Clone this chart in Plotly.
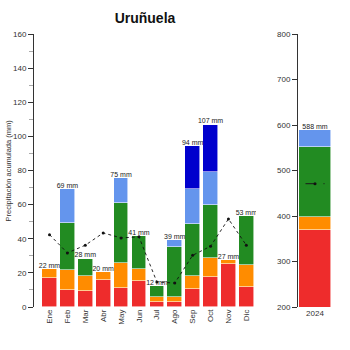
import plotly.graph_objects as go

months = ["Ene", "Feb", "Mar", "Abr", "May", "Jun", "Jul", "Ago", "Sep", "Oct", "Nov", "Dic"]
red = [17.1, 10.2, 9.1, 16.1, 11.4, 15.5, 2.8, 2.8, 10.8, 17.4, 25.3, 11.6]
orange = [4.9, 11.2, 8.9, 4.3, 14.6, 7.0, 2.9, 2.9, 7.2, 11.4, 2.4, 13.3]
green = [0, 27.9, 10.2, 0, 35.1, 18.9, 6.5, 29.3, 30.7, 31.2, 0, 28.6]
lightblue = [0, 20.0, 0, 0, 14.5, 0, 0, 4.1, 20.6, 19.1, 0, 0]
darkblue = [0, 0, 0, 0, 0, 0, 0, 0, 24.8, 27.7, 0, 0]
totals = [22, 69, 28, 20, 75, 41, 12, 39, 94, 107, 27, 53]
normal = [42.4, 31.7, 36.2, 43.4, 40.5, 41.1, 14.7, 14.0, 30.3, 35.6, 51.6, 36.2]

year = ["2024"]
y_red = [369.5]
y_orange = [27.5]
y_green = [154.5]
y_lightblue = [36.5]
y_total = [588]
y_normal = [471]

colors = {"red": "#EE2C2C", "orange": "#FF8C00", "green": "#228B22",
          "lightblue": "#6495ED", "darkblue": "#0000CD"}

W, H = 350, 350
fig = go.Figure()
edge = dict(color="rgba(255,255,255,0.7)", width=0.8)

xi = list(range(len(months)))
for vals, c in [(red, "red"), (orange, "orange"), (green, "green"),
                (lightblue, "lightblue"), (darkblue, "darkblue")]:
    fig.add_trace(go.Bar(x=xi, y=vals, marker=dict(color=colors[c], line=edge),
                         width=0.82, xaxis="x", yaxis="y", showlegend=False,
                         hoverinfo="skip"))

fig.add_trace(go.Scatter(x=xi, y=normal, mode="lines+markers",
                         line=dict(color="#111", width=0.9, dash="dot"),
                         marker=dict(color="#111", size=3), xaxis="x", yaxis="y",
                         showlegend=False))
fig.add_trace(go.Scatter(x=xi, y=totals, mode="text",
                         text=[f"{t} mm" for t in totals], textposition="top center",
                         textfont=dict(size=7, color="#222", family="Liberation Sans"),
                         xaxis="x", yaxis="y", showlegend=False))

yi = list(range(len(year)))
for vals, c in [(y_red, "red"), (y_orange, "orange"), (y_green, "green"),
                (y_lightblue, "lightblue")]:
    fig.add_trace(go.Bar(x=yi, y=vals, marker=dict(color=colors[c], line=edge),
                         width=0.96, xaxis="x2", yaxis="y2", showlegend=False,
                         hoverinfo="skip"))
half = 0.28
fig.add_trace(go.Scatter(x=[yi[0] - half, yi[0], yi[0] + half], y=y_normal * 3,
                         mode="lines", line=dict(color="#1a1a1a", width=1, dash="dash"),
                         xaxis="x2", yaxis="y2", showlegend=False))
fig.add_trace(go.Scatter(x=yi, y=y_normal, mode="markers",
                         marker=dict(color="#111", size=3), xaxis="x2", yaxis="y2",
                         showlegend=False))
fig.add_trace(go.Scatter(x=yi, y=y_total, mode="text",
                         text=[f"{t} mm" for t in y_total], textposition="top center",
                         textfont=dict(size=7, color="#222", family="Liberation Sans"),
                         xaxis="x2", yaxis="y2", showlegend=False))

tickfont = dict(size=8, color="#333", family="Liberation Sans")
fig.update_layout(
    width=W, height=H, barmode="stack", bargap=0,
    margin=dict(l=0, r=0, t=34, b=42.5),
    paper_bgcolor="white", plot_bgcolor="white",
    title=dict(text="<b>Uruñuela</b>", x=145 / W, xref="container", xanchor="center",
               y=1 - 18 / H, yref="container", yanchor="middle",
               font=dict(size=14, color="#111", family="Liberation Sans")),
    xaxis=dict(domain=[34 / W, 256 / W], range=[-0.866, 11.54],
               tickvals=xi, ticktext=months, tickangle=-90, ticks="",
               showline=False, showgrid=False, zeroline=False,
               tickfont=tickfont, automargin=False),
    yaxis=dict(range=[0, 160], tickvals=list(range(0, 161, 20)), ticks="outside",
               ticklen=5, tickcolor="#333", showline=True, linecolor="#333",
               linewidth=1, showgrid=False, zeroline=False, tickfont=tickfont,
               minor=dict(ticks="outside", dtick=10, ticklen=4, tickcolor="#aaa"),
               automargin=False, anchor="x"),
    xaxis2=dict(domain=[298 / W, 332 / W], range=[-0.5, 0.5],
                tickvals=yi, ticktext=year, ticks="", showline=False,
                showgrid=False, zeroline=False, tickfont=tickfont, automargin=False,
                anchor="y2"),
    yaxis2=dict(range=[200, 800], tickvals=list(range(200, 801, 100)), ticks="outside",
                ticklen=5, tickcolor="#333", showline=True, linecolor="#333",
                linewidth=1, showgrid=False, zeroline=False, tickfont=tickfont,
                automargin=False, anchor="x2"),
    annotations=[dict(text="Precipitación acumulada (mm)", textangle=-90,
                      x=8 / W, y=0.5, xref="paper", yref="paper",
                      xanchor="center", yanchor="middle", showarrow=False,
                      font=dict(size=7.5, color="#333", family="Liberation Sans"))],
)

fig.write_html("out.html")
